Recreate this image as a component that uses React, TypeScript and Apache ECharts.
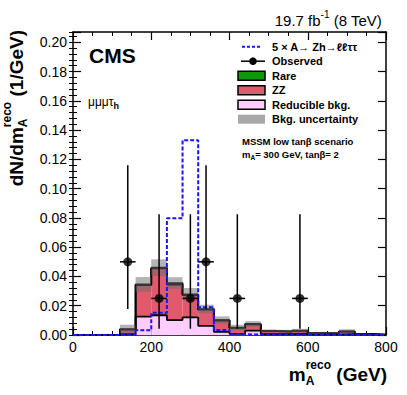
import React, { useEffect, useRef } from 'react';
import * as echarts from 'echarts';

const FONT = '"Liberation Sans", Arial, Helvetica, sans-serif';

// ---- data (per 40 GeV bin, dN/dm in 1/GeV) ----
const binLow = [0, 40, 80, 120, 160, 200, 240, 280, 320, 360, 400, 440, 480, 520, 560, 600, 640, 680, 720, 760];
const binWidth = 40;
const reducible = [0, 0, 0, 0.0005, 0.0125, 0.0135, 0.0102, 0.012, 0.0062, 0.0022, 0.0008, 0.003, 0.0005, 0.0005, 0.0008, 0.0003, 0.0003, 0.0005, 0.0002, 0];
const zz = [0, 0, 0, 0.0032, 0.0216, 0.032, 0.0243, 0.0153, 0.0111, 0.0077, 0.004, 0.0043, 0.0021, 0.0018, 0.002, 0.0009, 0.0011, 0.0018, 0.0004, 0.0002];
const rare = [0, 0, 0, 0.0003, 0.0005, 0.0005, 0.001, 0.0005, 0.0004, 0.0003, 0.0002, 0.0002, 0.0002, 0.0002, 0.0002, 0.0001, 0.0001, 0.0002, 0.0001, 0.0001];
const bkgUnc = [0, 0, 0, 0.003, 0.005, 0.0057, 0.004, 0.0043, 0.003, 0.0025, 0.002, 0.002, 0.001, 0.001, 0.0012, 0.0006, 0.0006, 0.0014, 0.0004, 0.0002];
const signal = [0, 0, 0, 0, 0.0032, 0.0152, 0.0797, 0.1331, 0.0189, 0.0034, 0.0005, 0.0003, 0, 0, 0, 0, 0, 0, 0, 0];

const obsX = [140, 220, 300, 340, 420, 580];
const obsY = [0.05, 0.025, 0.025, 0.05, 0.025, 0.025];
const obsLow = [0.0177, 0.0043, 0.0043, 0.0177, 0.0043, 0.0043];
const obsHigh = [0.116, 0.0825, 0.0825, 0.116, 0.0825, 0.0825];

const xTicks = { min: 0, max: 800, interval: 200 };
const yTicks = { min: 0, max: 0.207, interval: 0.02, minor: 0.004 };

const legendLabels = ['5 \u00d7 A\u2192 Zh\u2192\u2113\u2113\u03c4\u03c4', 'Observed', 'Rare', 'ZZ', 'Reducible bkg.', 'Bkg. uncertainty'];

const C = {
  rare: '#0a9a0a',
  zz: '#e05a6b',
  red: '#ffccff',
  unc: 'rgba(105,105,105,0.5)',
  uncLegend: '#a8a8a8',
  sig: '#1616ff',
};

let mctx: CanvasRenderingContext2D | null = null;
function textWidth(t: string, size: number, bold?: boolean) {
  if (!mctx) mctx = document.createElement('canvas').getContext('2d');
  mctx!.font = `${bold ? 'bold ' : ''}${size}px ${FONT}`;
  return mctx!.measureText(t).width;
}

type Piece = { t: string; s: number; b?: boolean; dy?: number; overlap?: boolean };

function layout(pieces: Piece[]) {
  let maxEnd = 0;
  let prevStart = 0;
  const els: any[] = [];
  for (const p of pieces) {
    const w = textWidth(p.t, p.s, p.b);
    const start = p.overlap ? prevStart : maxEnd;
    els.push({
      type: 'text',
      x: start,
      y: p.dy || 0,
      style: {
        text: p.t,
        fontSize: p.s,
        fontWeight: p.b ? 'bold' : 'normal',
        fontFamily: FONT,
        fill: '#000',
        align: 'left',
        verticalAlign: 'middle',
        textAlign: 'left',
        textVerticalAlign: 'middle',
      },
    });
    prevStart = start;
    maxEnd = Math.max(maxEnd, start + w);
  }
  return { els, width: maxEnd };
}

function textGroup(pieces: Piece[], x: number, y: number, align: 'left' | 'right') {
  const { els, width } = layout(pieces);
  return { type: 'group', x: align === 'left' ? x : x - width, y, children: els, z: 100 };
}

function buildOption() {
  const cumRed = reducible.slice();
  const cumZZ = reducible.map((v, i) => v + zz[i]);
  const cumAll = cumZZ.map((v, i) => v + rare[i]);

  const rectItem = (fill: string) => (params: any, api: any) => {
    const a = api.coord([api.value(0), api.value(3)]);
    const b = api.coord([api.value(1), api.value(2)]);
    return {
      type: 'rect',
      shape: { x: a[0], y: a[1], width: b[0] - a[0], height: b[1] - a[1] },
      style: { fill },
    };
  };
  const layerData = (base: number[], top: number[]) =>
    binLow.map((lo, i) => [lo, lo + binWidth, base[i], top[i]]);
  const stepData = (vals: number[]) => {
    const d = binLow.map((lo, i) => [lo, vals[i]]);
    d.push([binLow[binLow.length - 1] + binWidth, vals[vals.length - 1]]);
    return d;
  };
  const zeros = binLow.map(() => 0);

  const axisCommonX = {
    type: 'value',
    min: xTicks.min,
    max: xTicks.max,
    interval: xTicks.interval,
    axisLine: { show: true, onZero: false, lineStyle: { color: '#000', width: 1.5 } },
    axisTick: { show: true, inside: true, length: 8, lineStyle: { color: '#000', width: 1.2 } },
    minorTick: { show: true, splitNumber: 4, length: 4, lineStyle: { color: '#000', width: 1 } },
    splitLine: { show: false },
    minorSplitLine: { show: false },
  };
  const yBase = { type: 'value', min: yTicks.min, max: yTicks.max, splitLine: { show: false } };
  const yMajor = (position: string, labels: boolean) => ({
    ...yBase,
    position,
    interval: yTicks.interval,
    axisLine: { show: true, onZero: false, lineStyle: { color: '#000', width: 1.5 } },
    axisTick: { show: true, inside: true, length: 8, lineStyle: { color: '#000', width: 1.2 } },
    axisLabel: labels
      ? {
          show: true,
          color: '#000',
          fontSize: 14,
          fontFamily: FONT,
          margin: 6,
          formatter: (v: number) => {
            const r = v / yTicks.interval;
            return Math.abs(r - Math.round(r)) < 1e-6 ? v.toFixed(2) : '';
          },
        }
      : { show: false },
  });
  const yMinor = (position: string) => ({
    ...yBase,
    position,
    interval: yTicks.minor,
    axisLine: { show: false },
    axisTick: { show: true, inside: true, length: 4, lineStyle: { color: '#000', width: 1 } },
    axisLabel: { show: false },
  });

  // Texts
  const yTitle = layout([
    { t: 'dN/dm', s: 19, b: true },
    { t: 'A', s: 12, b: true, dy: 7 },
    { t: 'reco', s: 12, b: true, dy: -9, overlap: true },
    { t: ' (1/GeV)', s: 19, b: true },
  ]);
  const lx = 242;
  const tx = 272;
  const ly = [46.7, 61.2, 75.7, 90.2, 104.7, 119.2];
  const box = (y: number, fill: string, stroke: boolean) => ({
    type: 'rect',
    shape: { x: 238, y: y - 4.5, width: 27, height: 9 },
    style: { fill, stroke: stroke ? '#000' : null, lineWidth: 1.5 },
    z: 100,
  });
  const legendText = (t: string, y: number) => ({
    type: 'text',
    x: tx,
    y,
    z: 100,
    style: {
      text: t,
      fontSize: 11,
      fontWeight: 'bold',
      fontFamily: FONT,
      fill: '#000',
      align: 'left',
      verticalAlign: 'middle',
      textAlign: 'left',
      textVerticalAlign: 'middle',
    },
  });

  const graphic: any[] = [
    { type: 'group', x: 16, y: 30 + yTitle.width, rotation: Math.PI / 2, children: yTitle.els, z: 100 },
    textGroup(
      [
        { t: 'm', s: 19, b: true },
        { t: 'A', s: 12, b: true, dy: 7 },
        { t: 'reco', s: 12, b: true, dy: -9, overlap: true },
        { t: ' (GeV)', s: 19, b: true },
      ],
      387,
      374,
      'right'
    ),
    textGroup(
      [
        { t: '19.7 fb', s: 15 },
        { t: '-1', s: 10, dy: -6 },
        { t: ' (8 TeV)', s: 15 },
      ],
      382,
      20,
      'right'
    ),
    textGroup([{ t: 'CMS', s: 21, b: true }], 89, 55, 'left'),
    textGroup(
      [
        { t: '\u03bc\u03bc\u03bc\u03c4', s: 12 },
        { t: 'h', s: 9, b: true, dy: 4 },
      ],
      88,
      102,
      'left'
    ),
    // legend
    {
      type: 'line',
      shape: { x1: lx, y1: ly[0], x2: 260, y2: ly[0] },
      style: { stroke: C.sig, lineWidth: 2, lineDash: [3, 2] },
      z: 100,
    },
    {
      type: 'line',
      shape: { x1: 241, y1: ly[1], x2: 265, y2: ly[1] },
      style: { stroke: '#000', lineWidth: 1.5 },
      z: 100,
    },
    { type: 'circle', shape: { cx: 253, cy: ly[1], r: 3.8 }, style: { fill: '#000' }, z: 100 },
    box(ly[2], C.rare, true),
    box(ly[3], C.zz, true),
    box(ly[4], C.red, true),
    box(ly[5], C.uncLegend, false),
    ...legendLabels.map((t, i) => legendText(t, ly[i])),
    textGroup([{ t: 'MSSM low tan\u03b2 scenario', s: 9.5, b: true }], 242, 141, 'left'),
    textGroup(
      [
        { t: 'm', s: 9.5, b: true },
        { t: 'A', s: 6.5, b: true, dy: 3 },
        { t: '= 300 GeV, tan\u03b2= 2', s: 9.5, b: true },
      ],
      242,
      154,
      'left'
    ),
  ];

  return {
    animation: false,
    backgroundColor: '#fff',
    grid: { left: 73, right: 21, top: 32, bottom: 60, containLabel: false },
    xAxis: [
      {
        ...axisCommonX,
        position: 'bottom',
        axisLabel: { show: true, color: '#000', fontSize: 14, fontFamily: FONT, margin: 5 },
      },
      { ...axisCommonX, position: 'top', axisLabel: { show: false } },
    ],
    yAxis: [yMajor('left', true), yMinor('left'), yMajor('right', false), yMinor('right')],
    graphic,
    series: [
      {
        type: 'custom',
        silent: true,
        renderItem: rectItem(C.red),
        encode: { x: [0, 1], y: [2, 3] },
        data: layerData(zeros, cumRed),
        z: 2,
      },
      {
        type: 'custom',
        silent: true,
        renderItem: rectItem(C.zz),
        encode: { x: [0, 1], y: [2, 3] },
        data: layerData(cumRed, cumZZ),
        z: 2,
      },
      {
        type: 'custom',
        silent: true,
        renderItem: rectItem(C.rare),
        encode: { x: [0, 1], y: [2, 3] },
        data: layerData(cumZZ, cumAll),
        z: 2,
      },
      ...[cumRed, cumZZ, cumAll].map((vals) => ({
        type: 'line',
        silent: true,
        step: 'end',
        symbol: 'none',
        data: stepData(vals),
        lineStyle: { color: '#000', width: 1.8 },
        z: 3,
      })),
      {
        type: 'custom',
        silent: true,
        renderItem: rectItem(C.unc),
        encode: { x: [0, 1], y: [2, 3] },
        data: layerData(
          cumAll.map((v, i) => Math.max(0, v - bkgUnc[i])),
          cumAll.map((v, i) => v + bkgUnc[i])
        ),
        z: 4,
      },
      {
        type: 'line',
        silent: true,
        step: 'end',
        symbol: 'none',
        data: stepData(signal),
        lineStyle: { color: C.sig, width: 2, type: [4, 2] },
        z: 5,
      },
      {
        type: 'custom',
        silent: true,
        encode: { x: 0, y: [1, 2, 3] },
        data: obsX.map((x, i) => [x, obsY[i], obsLow[i], obsHigh[i]]),
        renderItem: (params: any, api: any) => {
          const x = api.value(0);
          const y = api.value(1);
          const pLo = api.coord([x, api.value(2)]);
          const pHi = api.coord([x, api.value(3)]);
          const pL = api.coord([x - binWidth / 2, y]);
          const pR = api.coord([x + binWidth / 2, y]);
          return {
            type: 'group',
            children: [
              { type: 'line', shape: { x1: pLo[0], y1: pLo[1], x2: pHi[0], y2: pHi[1] }, style: { stroke: '#000', lineWidth: 1.5 } },
              { type: 'line', shape: { x1: pL[0], y1: pL[1], x2: pR[0], y2: pR[1] }, style: { stroke: '#000', lineWidth: 1.5 } },
            ],
          };
        },
        z: 6,
      },
      {
        type: 'scatter',
        silent: true,
        symbol: 'circle',
        symbolSize: 9,
        itemStyle: { color: '#000' },
        data: obsX.map((x, i) => [x, obsY[i]]),
        z: 7,
      },
    ],
  };
}

export default function App() {
  const ref = useRef<HTMLDivElement>(null);
  useEffect(() => {
    const chart = echarts.init(ref.current!, null, { renderer: 'svg' });
    chart.setOption(buildOption() as any);
    return () => chart.dispose();
  }, []);
  return (
    <div
      ref={ref}
      style={{ position: 'fixed', left: 0, top: 0, width: 407, height: 395, background: '#fff' }}
    />
  );
}
